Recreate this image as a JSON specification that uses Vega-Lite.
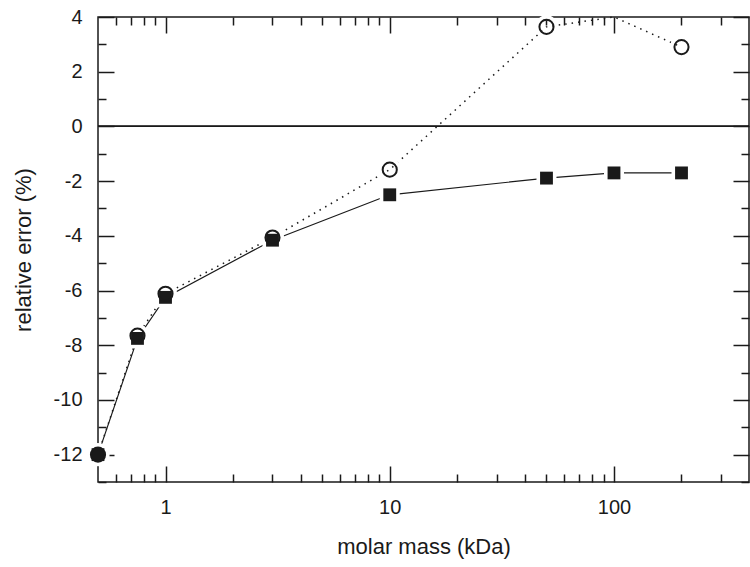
{
  "$schema": "https://vega.github.io/schema/vega-lite/v6.json",
  "autosize": {"type": "none"},
  "width": 651,
  "height": 465,
  "padding": {"left": 98, "top": 17, "right": 1, "bottom": 85},
  "background": "white",
  "config": {
    "view": {"stroke": "#1a1a1a", "strokeWidth": 1.5},
    "axis": {
      "grid": false,
      "domain": false,
      "labelFont": "Liberation Sans",
      "titleFont": "Liberation Sans",
      "labelFontSize": 20,
      "titleFontSize": 22,
      "titleFontWeight": "normal",
      "labelColor": "#1a1a1a",
      "titleColor": "#1a1a1a",
      "tickColor": "#1a1a1a",
      "tickWidth": 1.5
    }
  },
  "data": {
    "values": [
      {"mass": 0.5, "err": -12.0, "series": "squares"},
      {"mass": 0.75, "err": -7.75, "series": "squares"},
      {"mass": 1, "err": -6.25, "series": "squares"},
      {"mass": 3, "err": -4.16, "series": "squares"},
      {"mass": 10, "err": -2.5, "series": "squares"},
      {"mass": 50, "err": -1.89, "series": "squares"},
      {"mass": 100, "err": -1.7, "series": "squares"},
      {"mass": 200, "err": -1.7, "series": "squares"},
      {"mass": 0.5, "err": -12.0, "series": "circles"},
      {"mass": 0.75, "err": -7.65, "series": "circles"},
      {"mass": 1, "err": -6.12, "series": "circles"},
      {"mass": 3, "err": -4.06, "series": "circles"},
      {"mass": 10, "err": -1.58, "series": "circles"},
      {"mass": 50, "err": 3.64, "series": "circles"},
      {"mass": 100, "err": 4.0, "series": "circles"},
      {"mass": 200, "err": 2.9, "series": "circles"}
    ]
  },
  "resolve": {"axis": {"x": "independent", "y": "independent"}},
  "layer": [
    {
      "mark": {"type": "rule", "color": "#1a1a1a", "strokeWidth": 1},
      "encoding": {
        "y": {"datum": 0, "type": "quantitative", "axis": null}
      }
    },
    {
      "transform": [{"filter": "datum.series == 'squares'"}],
      "mark": {"type": "line", "color": "#1a1a1a", "strokeWidth": 1.2},
      "encoding": {
        "x": {
          "field": "mass", "type": "quantitative",
          "scale": {"type": "log", "domain": [0.5, 400], "nice": false},
          "axis": {"orient": "bottom", "values": [1, 10, 100], "tickSize": -16, "labelPadding": 31, "title": "molar mass (kDa)", "titlePadding": 19, "format": "~g"}
        },
        "y": {
          "field": "err", "type": "quantitative",
          "scale": {"domain": [-13, 4], "nice": false},
          "axis": {"orient": "left", "values": [-12, -10, -8, -6, -4, -2, 0, 2, 4], "tickSize": -16, "labelPadding": 32, "labelExpr": "replace(datum.label, '−', '-')", "title": "relative error (%)", "titlePadding": 18}
        }
      }
    },
    {
      "transform": [{"filter": "datum.series == 'circles'"}],
      "mark": {"type": "line", "color": "#1a1a1a", "strokeWidth": 1.5, "strokeDash": [1.5, 5]},
      "encoding": {
        "x": {
          "field": "mass", "type": "quantitative",
          "axis": {"orient": "bottom", "values": [0.6, 0.7, 0.8, 0.9, 2, 3, 4, 5, 6, 7, 8, 9, 20, 30, 40, 50, 60, 70, 80, 90, 200, 300], "tickSize": -8, "labels": false, "title": null}
        },
        "y": {
          "field": "err", "type": "quantitative",
          "axis": {"orient": "left", "values": [-13, -11, -9, -7, -5, -3, -1, 1, 3], "tickSize": -8, "labels": false, "title": null}
        }
      }
    },
    {
      "transform": [{"filter": "datum.series == 'squares'"}],
      "mark": {"type": "point", "shape": "square", "filled": true, "color": "white", "size": 400, "opacity": 1},
      "encoding": {
        "x": {
          "field": "mass", "type": "quantitative",
          "axis": {"orient": "top", "values": [1, 10, 100], "tickSize": -16, "labels": false, "title": null}
        },
        "y": {
          "field": "err", "type": "quantitative",
          "axis": {"orient": "right", "values": [-12, -10, -8, -6, -4, -2, 0, 2, 4], "tickSize": -16, "labels": false, "title": null}
        }
      }
    },
    {
      "transform": [{"filter": "datum.series == 'circles' && datum.mass != 100"}],
      "mark": {"type": "point", "shape": "circle", "filled": false, "color": "white", "strokeWidth": 5, "size": 330, "opacity": 1},
      "encoding": {
        "x": {
          "field": "mass", "type": "quantitative",
          "axis": {"orient": "top", "values": [0.6, 0.7, 0.8, 0.9, 2, 3, 4, 5, 6, 7, 8, 9, 20, 30, 40, 50, 60, 70, 80, 90, 200, 300], "tickSize": -8, "labels": false, "title": null}
        },
        "y": {
          "field": "err", "type": "quantitative",
          "axis": {"orient": "right", "values": [-13, -11, -9, -7, -5, -3, -1, 1, 3], "tickSize": -8, "labels": false, "title": null}
        }
      }
    },
    {
      "transform": [{"filter": "datum.series == 'squares'"}],
      "mark": {"type": "point", "shape": "square", "filled": true, "color": "#1a1a1a", "size": 165, "opacity": 1},
      "encoding": {
        "x": {"field": "mass", "type": "quantitative", "axis": null},
        "y": {"field": "err", "type": "quantitative", "axis": null}
      }
    },
    {
      "transform": [{"filter": "datum.series == 'circles' && datum.mass != 100"}],
      "mark": {"type": "point", "shape": "circle", "stroke": "#1a1a1a", "strokeWidth": 2, "size": 200, "opacity": 1},
      "encoding": {
        "x": {"field": "mass", "type": "quantitative", "axis": null},
        "y": {"field": "err", "type": "quantitative", "axis": null},
        "fill": {"condition": {"test": "datum.mass == 0.5", "value": "#1a1a1a"}, "value": "transparent"}
      }
    }
  ]
}
